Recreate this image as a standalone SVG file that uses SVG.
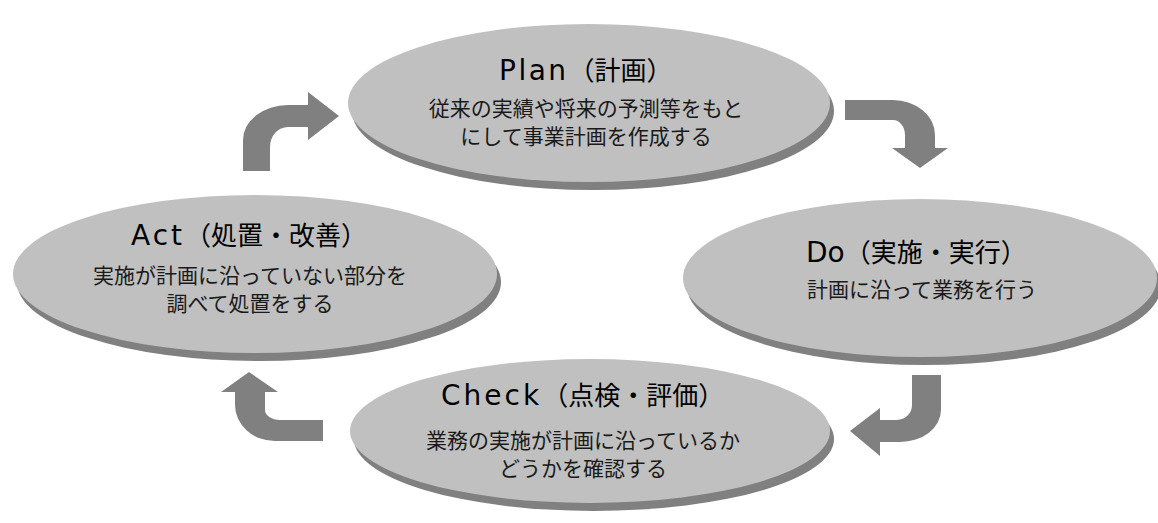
<svg xmlns="http://www.w3.org/2000/svg" width="1158" height="523" viewBox="0 0 1158 523">
<style>
.bg{fill:#ffffff}
.shadow{fill:#808080}
.face{fill:#c0c0c0}
.arrow{fill:#808080}
.title{font-family:"Noto Sans CJK JP","Noto Sans",sans-serif;font-size:26px;fill:#000}
.lat{font-family:"DejaVu Sans","Noto Sans",sans-serif;font-size:28px}
.sub{font-family:"Noto Sans CJK JP","Noto Sans",sans-serif;font-size:21px;fill:#1a1a1a;text-anchor:middle}
</style>
<rect class="bg" x="0" y="0" width="1158" height="523"/>
<g id="connectors">
<path class="arrow" d="M243,171 L243,140 A45,35 0 0 1 288,105 L308,105 L308,92 L339,116 L308,140 L308,127 L288,127 A18,20 0 0 0 270,147 L270,171 Z"/>
<path class="arrow" d="M845,100 L893,100 A42,35 0 0 1 935,135 L935,148 L948,148 L920,168 L892,148 L905,148 L905,135 A12,15 0 0 0 893,120 L845,120 Z"/>
<path class="arrow" d="M941,375 L941,410 A41,32 0 0 1 900,442 L880,442 L880,456 L850,431 L880,408 L880,420 L897,420 A15,15 0 0 0 912,405 L912,375 Z"/>
<path class="arrow" d="M323,420 L280,420 A15,10 0 0 1 265,410 L265,392 L278,392 L249,372 L221,392 L235,392 L235,405 A40,36 0 0 0 275,441 L323,441 Z"/>
</g>
<g id="plan">
<ellipse class="shadow" cx="593" cy="111" rx="241" ry="79"/>
<ellipse class="face" cx="589" cy="103" rx="241" ry="79"/>
<text class="title" x="499" y="80"><tspan class="lat" letter-spacing="2.5">Plan</tspan>（計画）</text>
<text class="sub" x="586" y="116">従来の実績や将来の予測等をもと</text>
<text class="sub" x="586" y="144">にして事業計画を作成する</text>
</g>
<g id="act">
<ellipse class="shadow" cx="259" cy="282" rx="242" ry="79"/>
<ellipse class="face" cx="255" cy="274" rx="242" ry="79"/>
<text class="title" x="131" y="245"><tspan class="lat" letter-spacing="3">Act</tspan>（処置・改善）</text>
<text class="sub" x="250" y="283">実施が計画に沿っていない部分を</text>
<text class="sub" x="250" y="311">調べて処置をする</text>
</g>
<g id="do">
<ellipse class="shadow" cx="924" cy="286" rx="237" ry="79"/>
<ellipse class="face" cx="920" cy="278" rx="237" ry="79"/>
<text class="title" x="806" y="262"><tspan class="lat">Do</tspan>（実施・実行）</text>
<text class="sub" x="922" y="297">計画に沿って業務を行う</text>
</g>
<g id="check">
<ellipse class="shadow" cx="594" cy="439" rx="240" ry="72"/>
<ellipse class="face" cx="590" cy="431" rx="240" ry="72"/>
<text class="title" x="441" y="405"><tspan class="lat" letter-spacing="3">Check</tspan>（点検・評価）</text>
<text class="sub" x="583" y="448">業務の実施が計画に沿っているか</text>
<text class="sub" x="583" y="476">どうかを確認する</text>
</g>
</svg>
